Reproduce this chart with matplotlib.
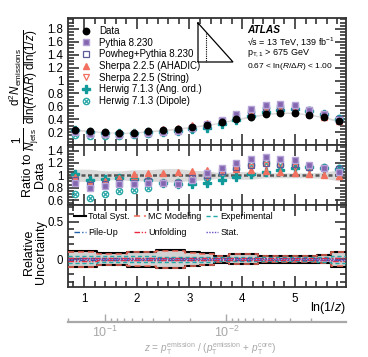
import numpy as np
import matplotlib
matplotlib.use("Agg")
import matplotlib.pyplot as plt
from matplotlib.ticker import MultipleLocator, FixedLocator, LogLocator, NullFormatter
from matplotlib.path import Path
from matplotlib.lines import Line2D

plt.rcParams['font.family'] = ['Liberation Sans', 'DejaVu Sans']
plt.rcParams['mathtext.fontset'] = 'custom'
plt.rcParams['mathtext.rm'] = 'Liberation Sans'
plt.rcParams['mathtext.it'] = 'Liberation Sans:italic'
plt.rcParams['mathtext.bf'] = 'Liberation Sans:bold'

# ---------------- data ----------------
x_lo, x_hi, n_bins = 0.697, 5.967, 19
data = [0.233, 0.220, 0.197, 0.188, 0.193, 0.212, 0.232, 0.252, 0.284, 0.310,
        0.350, 0.400, 0.440, 0.480, 0.500, 0.500, 0.470, 0.430, 0.370]
r_pythia = [0.87, 0.80, 0.83, 0.86, 0.86, 0.88, 0.87, 0.86, 0.92, 1.03,
            1.12, 1.20, 1.26, 1.29, 1.27, 1.24, 1.17, 1.12, 1.06]
r_powheg = [0.92, 0.84, 0.86, 0.88, 0.88, 0.90, 0.88, 0.88, 0.95, 1.00,
            1.07, 1.14, 1.17, 1.20, 1.19, 1.18, 1.14, 1.12, 1.10]
r_sh_ahadic = [0.97, 0.86, 0.90, 0.96, 1.02, 1.04, 1.04, 1.05, 1.07, 1.09,
               1.10, 1.10, 1.08, 1.07, 1.05, 1.04, 1.02, 1.01, 0.99]
r_sh_string = [0.93, 0.85, 0.86, 0.87, 0.89, 0.90, 0.88, 0.88, 0.95, 0.98,
               1.05, 1.12, 1.14, 1.17, 1.16, 1.13, 1.10, 1.08, 1.05]
r_hw_ang = [1.02, 0.93, 0.94, 0.95, 0.94, 0.93, 0.88, 0.86, 0.86, 0.87,
            0.93, 0.97, 1.02, 1.06, 1.09, 1.12, 1.13, 1.12, 1.11]
r_hw_dip = [0.69, 0.63, 0.69, 0.74, 0.77, 0.80, 0.87, 0.89, 0.90, 0.95,
            1.03, 1.10, 1.16, 1.20, 1.17, 1.16, 1.15, 1.13, 1.12]
labels = ["Data", "Pythia 8.230", "Powheg+Pythia 8.230", "Sherpa 2.2.5 (AHADIC)",
          "Sherpa 2.2.5 (String)", "Herwig 7.1.3 (Ang. ord.)", "Herwig 7.1.3 (Dipole)"]

unc_total = [0.11, 0.11, 0.08, 0.08, 0.10, 0.10, 0.12, 0.12, 0.09, 0.08,
             0.045, 0.07, 0.07, 0.045, 0.045, 0.045, 0.045, 0.055, 0.10]
unc_mc = [0.10, 0.10, 0.075, 0.075, 0.095, 0.095, 0.115, 0.115, 0.085, 0.075,
          0.04, 0.065, 0.065, 0.04, 0.04, 0.04, 0.04, 0.05, 0.095]
unc_exp = [0.045, 0.045, 0.04, 0.04, 0.04, 0.04, 0.035, 0.035, 0.035, 0.035,
           0.03, 0.03, 0.03, 0.03, 0.03, 0.03, 0.03, 0.035, 0.045]
unc_pu = [0.012, 0.012, 0.01, 0.01, 0.01, 0.01, 0.01, 0.01, 0.01, 0.01,
          0.01, 0.01, 0.01, 0.01, 0.01, 0.01, 0.01, 0.01, 0.012]
unc_unf = [0.02, 0.02, 0.015, 0.015, 0.015, 0.015, 0.015, 0.015, 0.015, 0.015,
           0.012, 0.012, 0.012, 0.012, 0.012, 0.012, 0.012, 0.015, 0.02]
unc_stat = [0.004, 0.004, 0.004, 0.004, 0.004, 0.004, 0.004, 0.004, 0.004, 0.004,
            0.004, 0.004, 0.004, 0.004, 0.004, 0.004, 0.004, 0.005, 0.006]
unc_labels = ["Total Syst.", "MC Modeling", "Experimental", "Pile-Up", "Unfolding", "Stat."]

edges = np.linspace(x_lo, x_hi, n_bins + 1)
centers = 0.5 * (edges[:-1] + edges[1:])
data = np.array(data)
tot = np.array(unc_total)

# ---------------- styles ----------------
c_py = '#8466b0'
c_pw = '#5d5a9c'
c_sh = '#f2705f'
c_hw = '#12999a'
c_hd = '#2aa7a7'

cross = Path([(-0.7, -0.7), (0.7, 0.7), (-0.7, 0.7), (0.7, -0.7)],
             [Path.MOVETO, Path.LINETO, Path.MOVETO, Path.LINETO])
circ = Path.unit_circle()
otimes = Path.make_compound_path(circ, cross)

ms = 4.6
styles = [
    dict(marker='o', color='black', mfc='black', mec='black', ms=ms),
    dict(marker='s', color=c_py, mfc=c_py, mec='#b5a3d8', mew=1.0, ms=ms + 0.3),
    dict(marker='s', color=c_pw, mfc='none', mec=c_pw, mew=0.9, ms=ms),
    dict(marker='^', color=c_sh, mfc=c_sh, mec=c_sh, ms=ms + 0.3),
    dict(marker='v', color=c_sh, mfc='none', mec=c_sh, mew=0.9, ms=ms + 0.3),
    dict(marker='P', color=c_hw, mfc=c_hw, mec=c_hw, ms=ms + 1.0),
    dict(marker=otimes, color=c_hd, mfc='none', mec=c_hd, mew=0.9, ms=ms),
]
ratios = [r_pythia, r_powheg, r_sh_ahadic, r_sh_string, r_hw_ang, r_hw_dip]

W, H = 368, 357
fig = plt.figure(figsize=(W / 100, H / 100), dpi=100)


def axpx(l, t, r, b):
    return fig.add_axes([l / W, 1 - b / H, (r - l) / W, (b - t) / H])


ax1 = axpx(68, 18, 346, 145)
ax2 = axpx(68, 145, 346, 205)
ax3 = axpx(68, 205, 346, 287)
ax4 = axpx(68, 312, 346, 322)

fs_tick = 8.3
fs_leg = 7.0
band_c = '#dadada'


def style_axis(ax):
    for s in ax.spines.values():
        s.set_linewidth(1.3)
        s.set_color('#333333')
    ax.set_xlim(x_lo, x_hi)
    ax.xaxis.set_major_locator(MultipleLocator(1))
    ax.xaxis.set_minor_locator(MultipleLocator(0.2))
    ax.tick_params(which='both', direction='in', top=True, right=True,
                   labelsize=fs_tick, color='#333333', width=1.2)
    ax.tick_params(which='major', length=8)
    ax.tick_params(which='minor', length=4)


# ---------------- top panel ----------------
style_axis(ax1)
xb = np.concatenate([[edges[0]], centers, [edges[-1]]])
db = np.concatenate([[data[0]], data, [data[-1]]])
tb = np.concatenate([[tot[0]], tot, [tot[-1]]])
ax1.fill_between(xb, db * (1 - tb * 0.5), db * (1 + tb * 0.5), color=band_c, lw=0, zorder=1)
handles = []
for i in range(6, 0, -1):
    st = styles[i]
    ax1.plot(centers, data * np.array(ratios[i - 1]), ls='none', zorder=3, **st)
ax1.plot(centers, data, ls='none', zorder=4, **styles[0])
for i in range(7):
    handles.append(Line2D([], [], ls='none', **styles[i]))
ax1.set_ylim(0, 1.97)
ax1.yaxis.set_major_locator(FixedLocator(np.arange(0.2, 1.81, 0.2)))
ax1.yaxis.set_minor_locator(MultipleLocator(0.05))
ax1.set_yticklabels(['0.2', '0.4', '0.6', '0.8', '1', '1.2', '1.4', '1.6', '1.8'])
ax1.tick_params(labelbottom=False)
ax1.legend(handles, labels, loc='upper left', bbox_to_anchor=(0.02, 0.99),
           frameon=False, fontsize=fs_leg, handlelength=1.2, handletextpad=0.75,
           labelspacing=0.17, borderpad=0.2)
ax1.set_ylabel(r"$\frac{1}{N_{\mathrm{jets}}}\;\frac{\mathrm{d}^2N_{\mathrm{emissions}}}"
               r"{\mathrm{dln}(R/\Delta R)\;\mathrm{dln}(1/z)}$", fontsize=12)
ax1.yaxis.set_label_coords(-0.095, 0.43)

# ATLAS label
tx = 0.645
fs_at = 6.5
ax1.text(tx, 0.905, 'ATLAS', transform=ax1.transAxes, fontsize=7.3,
         fontweight='bold', fontstyle='italic', va='center')
ax1.text(tx, 0.815, '\u221As = 13 TeV, 139 fb$^{-1}$', transform=ax1.transAxes,
         fontsize=fs_at, va='center')
ax1.text(tx, 0.725, r'p$_{\mathrm{T,1}}$ > 675 GeV', transform=ax1.transAxes,
         fontsize=fs_at, va='center')
ax1.text(tx, 0.615, r'0.67 < ln($R$/$\Delta R$) < 1.00', transform=ax1.transAxes,
         fontsize=6.0, va='center')
# Lund-plane triangle icon
def fx(px):
    return (px - 68) / 278
def fy(py):
    return (145 - py) / 127
ax1.plot([fx(198), fx(198), fx(233), fx(198)], [fy(23), fy(62), fy(62), fy(23)],
         transform=ax1.transAxes, color='black', lw=0.9, solid_joinstyle='miter')
ax1.plot([fx(206), fx(206)], [fy(33), fy(62)], transform=ax1.transAxes,
         color='black', lw=0.8, ls=(0, (1, 1)))

# ---------------- ratio panel ----------------
style_axis(ax2)
ax2.fill_between(xb, 1 - tb * 0.9, 1 + tb * 0.9, color=band_c, lw=0, zorder=1)
ax2.axhline(1.0, color='#555555', lw=1.8, ls=(0, (1.6, 1.0)), zorder=2)
for i in range(6, 0, -1):
    ax2.plot(centers, ratios[i - 1], ls='none', zorder=3, **styles[i])
ax2.set_ylim(0.52, 1.49)
ax2.yaxis.set_major_locator(FixedLocator([0.6, 0.8, 1.0, 1.2, 1.4]))
ax2.yaxis.set_minor_locator(MultipleLocator(0.05))
ax2.set_yticklabels(['0.6', '0.8', '1', '1.2', '1.4'])
ax2.tick_params(labelbottom=False)
ax2.set_ylabel('Ratio to\nData', fontsize=9, linespacing=1.0)
ax2.yaxis.set_label_coords(-0.08, 0.5)

# ---------------- uncertainty panel ----------------
style_axis(ax3)
def stp(v):
    v = np.asarray(v)
    return np.concatenate([v, [v[-1]]])
ax3.fill_between(edges, -stp(unc_total), stp(unc_total), step='post', color='#d2d2d2', lw=0, zorder=1)
unc_sets = [unc_total, unc_mc, unc_exp, unc_pu, unc_unf, unc_stat]
ustyles = [dict(color='black', lw=1.5, ls='-'),
           dict(color='#f26a5a', lw=1.1, ls=(0, (4, 2.5))),
           dict(color='#22a8a8', lw=1.0, ls=(0, (3, 2))),
           dict(color='#1f5fa8', lw=1.0, ls=(0, (4, 1.5, 1, 1.5))),
           dict(color='#e8283c', lw=1.0, ls=(0, (4, 1.2, 1, 1.2, 1, 1.2))),
           dict(color='#6a4fc0', lw=1.0, ls=(0, (1, 1)))]
uh = []
for v, st in zip(unc_sets, ustyles):
    ax3.step(edges, stp(v), where='post', zorder=3, **st)
    ax3.step(edges, -stp(v), where='post', zorder=3, **st)
    uh.append(Line2D([], [], **st))
ax3.set_ylim(-0.37, 0.72)
ax3.yaxis.set_major_locator(FixedLocator([0.0, 0.5]))
ax3.yaxis.set_minor_locator(MultipleLocator(0.1))
ax3.set_yticklabels(['0', '0.5'])
order = [0, 3, 1, 4, 2, 5]
ax3.legend([uh[k] for k in order], [unc_labels[k] for k in order], ncol=3,
           loc='upper left', bbox_to_anchor=(0.0, 0.99),
           frameon=False, fontsize=6.5, handlelength=1.3, handletextpad=0.25,
           columnspacing=0.5, labelspacing=0.75, borderpad=0.2)
ax3.set_ylabel('Relative\nUncertainty', fontsize=9, linespacing=1.0)
ax3.yaxis.set_label_coords(-0.076, 0.42)
ax3.set_xticks([1, 2, 3, 4, 5])
ax3.set_xticklabels(['1', '2', '3', '4', '5'])
ax3.tick_params(axis='x', pad=4)
ax3.set_xlabel(r'ln(1/$z$)', fontsize=9, ha='right')
ax3.xaxis.set_label_coords(1.0, -0.16)
ax3.xaxis.label.set_verticalalignment('top')

# ---------------- secondary z axis ----------------
gray = '#a8a8a8'
ax4.set_xscale('log')
ax4.set_xlim(0.2015, 0.001039)
ax4.set_ylim(0, 1)
for k, s in ax4.spines.items():
    s.set_visible(k == 'bottom')
ax4.spines['bottom'].set_color(gray)
ax4.spines['bottom'].set_linewidth(1.6)
ax4.set_yticks([])
ax4.xaxis.set_major_locator(FixedLocator([0.1, 0.01]))
ax4.xaxis.set_minor_locator(LogLocator(base=10, subs=np.arange(2, 10)))
ax4.xaxis.set_minor_formatter(NullFormatter())
ax4.set_xticklabels([r'$10^{-1}$', r'$10^{-2}$'])
ax4.tick_params(which='both', direction='in', color=gray, labelcolor=gray,
                labelsize=9, width=1.0)
ax4.tick_params(which='major', length=6, pad=2)
ax4.tick_params(which='minor', length=3)
ax4.patch.set_alpha(0)
fig.text(210 / W, 1 - 349 / H,
         r'$z$ = $p_{\mathrm{T}}^{\mathrm{emission}}$ / ($p_{\mathrm{T}}^{\mathrm{emission}}$ + $p_{\mathrm{T}}^{\mathrm{core}}$)',
         color=gray, fontsize=7.2, ha='center', va='center')

fig.savefig('out.png', dpi=100)
